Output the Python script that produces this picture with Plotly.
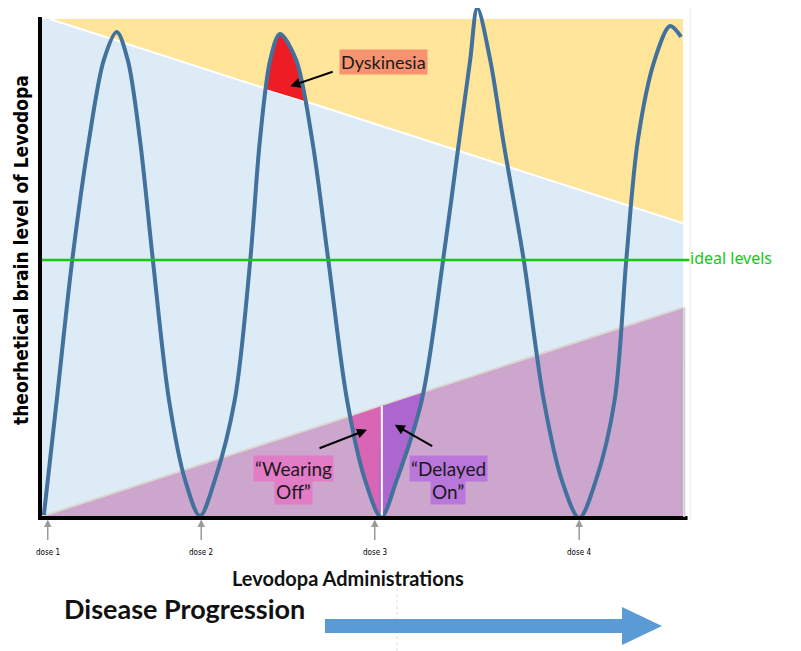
"""Levodopa-Spiegel im Gehirn über mehrere Gaben (Schema)."""

import plotly.graph_objects as go

# Zeit (willkürliche Einheiten 0-100) und theoretischer Levodopa-Spiegel (0-100)
zeit = [0.6, 2.6, 5.0, 7.6, 9.9, 11.9, 13.6, 15.5, 17.5, 20.0, 22.5, 24.8,
        27.1, 30.2, 32.6, 34.1, 35.7, 37.2, 39.7, 42.2, 44.7, 47.6, 50.4, 52.9,
        55.3, 59.2, 62.5, 65.0, 66.7, 67.8, 69.8, 71.8, 75.0, 78.1, 80.9, 83.6,
        86.2, 89.1, 90.9, 92.7, 95.3, 97.7, 99.4]
spiegel = [0.4, 23.5, 51.6, 75.7, 91.8, 97.4, 91.8, 75.7, 51.6, 23.5, 7.4, 0.2,
           7.4, 23.5, 51.6, 75.7, 91.8, 97.0, 91.8, 75.7, 51.6, 23.5, 7.4, 0.0,
           7.4, 23.5, 51.6, 75.7, 91.8, 102.2, 91.8, 75.7, 51.6, 23.5, 7.4, -0.2,
           7.4, 23.5, 51.6, 75.7, 91.8, 98.6, 96.4]

# Schwellen (Geraden über die Zeit)
bereich_x = [0.0, 99.7]
dyskinesie_grenze = [100.6, 59.0]   # oberhalb: Dyskinesie-Bereich
wirkungs_grenze = [0.0, 42.1]       # unterhalb: unzureichende Wirkung
ideal_spiegel = 51.6

# markierte Flächen
dysk_x = [35.1, 35.7, 37.2, 39.7, 40.95]
dysk_y = [85.9, 91.8, 97.0, 91.8, 83.6]
wearing_x = [48.2, 50.4, 52.9, 53.0, 53.0]
wearing_y = [20.2, 7.4, 0.0, 0.0, 22.3]
delayed_x = [53.0, 53.0, 55.3, 59.2, 59.4]
delayed_y = [22.3, 0.0, 7.4, 23.5, 25.0]

# Gaben
dosis_zeit = [1.2, 25.0, 51.9, 83.6]
dosis_labels = ['dose 1', 'dose 2', 'dose 3', 'dose 4']

FARBEN = {
    'gelb': '#FFE599',
    'blau': '#DDEBF7',
    'lila': '#CDA6CE',
    'kurve': '#41719C',
    'ideal': '#17C617',
    'dysk': '#EE1C24',
    'wearing': '#D866B4',
    'delayed': '#AE66CF',
}


# Plotbereich in Seitenpixeln: x 30..700, y 8..525 (Seite hat 8px Rand)
def px_x(px):
    return (px - 30) / 670


def px_y(py):
    return (525 - py) / 517


fig = go.Figure()

# Hintergrund
fig.add_trace(go.Scatter(
    x=[bereich_x[0], bereich_x[1], bereich_x[1], bereich_x[0]],
    y=[0, 0, 100, 100], fill='toself', fillcolor=FARBEN['blau'],
    mode='none', hoverinfo='skip'))
fig.add_trace(go.Scatter(
    x=[bereich_x[0], 1.5, bereich_x[1], bereich_x[1]],
    y=[100, 100, dyskinesie_grenze[1], 100], fill='toself', fillcolor=FARBEN['gelb'],
    mode='none', hoverinfo='skip'))
fig.add_trace(go.Scatter(
    x=[bereich_x[0], bereich_x[1], bereich_x[1]],
    y=[wirkungs_grenze[0], wirkungs_grenze[1], 0], fill='toself', fillcolor=FARBEN['lila'],
    mode='none', hoverinfo='skip'))

# Grenzlinien
fig.add_trace(go.Scatter(
    x=[1.5, bereich_x[1]], y=[100, dyskinesie_grenze[1]], mode='lines',
    line=dict(color='white', width=2), hoverinfo='skip'))
fig.add_trace(go.Scatter(
    x=bereich_x, y=wirkungs_grenze, mode='lines',
    line=dict(color='#DCD6D0', width=2), hoverinfo='skip'))

# markierte Flächen
for fx, fy, farbe in [(dysk_x, dysk_y, FARBEN['dysk']),
                      (wearing_x, wearing_y, FARBEN['wearing']),
                      (delayed_x, delayed_y, FARBEN['delayed'])]:
    fig.add_trace(go.Scatter(
        x=fx, y=fy, fill='toself', fillcolor=farbe, mode='lines',
        line=dict(color=farbe, width=1, shape='spline'), hoverinfo='skip'))

# weiße Trennlinie bei Gabe 3
fig.add_shape(type='line', x0=53.0, x1=53.0, y0=0.3, y1=22.3,
              line=dict(color='white', width=2))

# Idealbereich
fig.add_shape(type='line', x0=0, x1=100.7, y0=ideal_spiegel, y1=ideal_spiegel,
              line=dict(color=FARBEN['ideal'], width=2.5))

# Levodopa-Spiegel
fig.add_trace(go.Scatter(
    x=zeit, y=spiegel, mode='lines',
    line=dict(color=FARBEN['kurve'], width=4, shape='spline', smoothing=0.9),
    hoverinfo='skip'))

# Achsen (schwarze Linien)
fig.add_shape(type='line', x0=0, x1=0, y0=-0.6, y1=100.4,
              line=dict(color='black', width=4))
fig.add_shape(type='line', x0=0, x1=100.4, y0=-0.2, y1=-0.2,
              line=dict(color='black', width=4))
fig.add_shape(type='line', x0=99.9, x1=99.9, y0=0, y1=wirkungs_grenze[1],
              line=dict(color='#D0D0D0', width=2))
fig.add_shape(type='line', xref='paper', yref='paper',
              x0=px_x(690), x1=px_x(690), y0=px_y(520), y1=px_y(8),
              line=dict(color='#F2E4EA', width=1))
fig.add_shape(type='line', xref='paper', yref='paper',
              x0=px_x(397), x1=px_x(397), y0=px_y(588), y1=px_y(651),
              line=dict(color='#DDDDDD', width=1, dash='dot'))

# Dosis-Pfeile und Beschriftungen
for t, label in zip(dosis_zeit, dosis_labels):
    fig.add_annotation(x=t, y=-0.5, xref='x', yref='y', text='', showarrow=True,
                       ax=0, ay=22, arrowhead=2, arrowsize=1, arrowwidth=1.5,
                       arrowcolor='#9A9A9A')
    fig.add_annotation(x=t, y=px_y(552), xref='x', yref='paper', text=label,
                       showarrow=False, xanchor='center', yanchor='middle',
                       font=dict(family='DejaVu Sans Condensed', size=8, color='black'))

# Pfeile auf markierte Flächen
fig.add_annotation(x=38.8, y=86.5, text='', showarrow=True, ax=44, ay=-15,
                   arrowhead=2, arrowsize=1, arrowwidth=2, arrowcolor='black')
fig.add_annotation(x=50.7, y=17.5, text='', showarrow=True, ax=-49, ay=19,
                   arrowhead=2, arrowsize=1, arrowwidth=2, arrowcolor='black')
fig.add_annotation(x=55.0, y=18.5, text='', showarrow=True, ax=39, ay=22,
                   arrowhead=2, arrowsize=1, arrowwidth=2, arrowcolor='black')

for text, px, py, farbe, groesse in [('Dyskinesia', 383, 62, '#F7946F', 18),
                                     ('“Wearing', 293, 468, '#E27CC6', 19),
                                     ('Off”', 293, 491, '#E27CC6', 19),
                                     ('“Delayed', 448, 468, '#B977DB', 19),
                                     ('On”', 448, 491, '#B977DB', 19)]:
    fig.add_annotation(x=px_x(px), y=px_y(py), xref='paper', yref='paper', text=text,
                       showarrow=False, xanchor='center', yanchor='middle',
                       font=dict(family='Lato, Open Sans, sans-serif', size=groesse,
                                 color='#1a1a1a'),
                       bgcolor=farbe, borderpad=1)

fig.add_annotation(x=px_x(688), y=px_y(258), xref='paper', yref='paper',
                   text='ideal levels', showarrow=False, xanchor='left', yanchor='middle',
                   font=dict(family='Noto Sans', size=16, color=FARBEN['ideal']))

fig.add_annotation(x=px_x(21), y=px_y(250), xref='paper', yref='paper',
                   text='<b>theorhetical brain level of Levodopa</b>', textangle=-90,
                   showarrow=False, xanchor='center', yanchor='middle',
                   font=dict(family='DejaVu Sans Condensed', size=19, color='black'))

fig.add_annotation(x=px_x(348), y=px_y(578), xref='paper', yref='paper',
                   text='<b>Levodopa Administrations</b>', showarrow=False,
                   xanchor='center', yanchor='middle',
                   font=dict(family='Lato, Open Sans, sans-serif', size=20, color='#111111'))

fig.add_annotation(x=px_x(62), y=px_y(608), xref='paper', yref='paper',
                   text='<b>Disease Progression</b>', showarrow=False,
                   xanchor='left', yanchor='middle',
                   font=dict(family='Lato, Open Sans, sans-serif', size=27, color='#111111'))

# Pfeil "Fortschreiten der Erkrankung"
pfad = 'M {} {} L {} {} L {} {} L {} {} L {} {} L {} {} L {} {} Z'.format(
    px_x(325), px_y(619), px_x(622), px_y(619), px_x(622), px_y(607),
    px_x(662), px_y(626), px_x(622), px_y(645), px_x(622), px_y(633),
    px_x(325), px_y(633))
fig.add_shape(type='path', path=pfad, xref='paper', yref='paper',
              fillcolor='#5B9BD5', line=dict(width=0))

fig.update_xaxes(range=[-1.55, 102.33], showgrid=False, zeroline=False,
                 showticklabels=False, ticks='', showline=False)
fig.update_yaxes(range=[-1.61, 102.21], showgrid=False, zeroline=False,
                 showticklabels=False, ticks='', showline=False)

fig.update_layout(
    width=801, height=651,
    margin=dict(l=22, r=109, t=0, b=134),
    plot_bgcolor='white', paper_bgcolor='white',
    showlegend=False,
)

fig.write_html('out.html')
